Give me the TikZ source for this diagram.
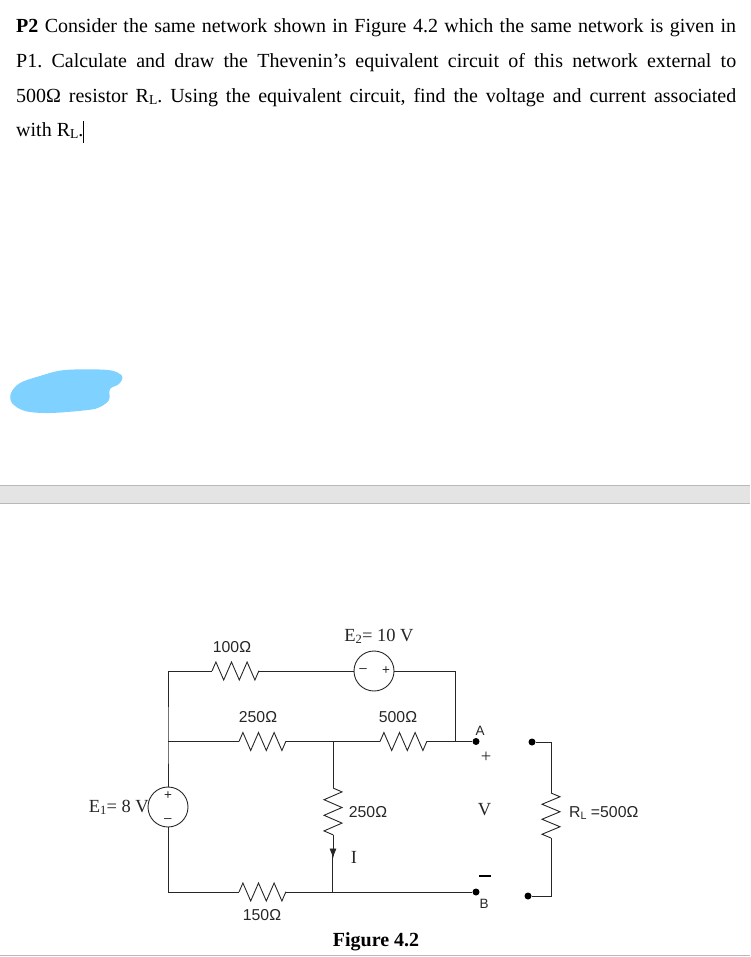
\documentclass[tikz,border=0pt]{standalone}
\usepackage{fontspec}
\setmainfont{Liberation Serif}
\setsansfont{Liberation Sans}
\usetikzlibrary{decorations.pathmorphing,arrows.meta}
\frenchspacing
\newcommand{\sbs}[1]{\raisebox{-0.12em}{\scalebox{0.68}{#1}}}
\tikzset{
  x=1pt,y=-1pt,
  wire/.style={draw=black!85,line width=0.9pt,line join=miter},
  res/.style={wire,decorate,decoration={zigzag,segment length=#1,amplitude=9pt}},
  res/.default=15.6pt,
  src/.style={circle,draw=black!85,line width=0.9pt,minimum size=40pt,inner sep=0pt},
  term/.style={circle,fill=black,minimum size=7pt,inner sep=0pt},
  para/.style={anchor=base west,inner sep=0pt,font=\rmfamily\fontsize{20}{22}\selectfont},
  val/.style={inner sep=0pt,font=\sffamily\fontsize{15.8}{18}\selectfont,text=black!85},
  ser/.style={inner sep=0pt,font=\rmfamily\fontsize{18.5}{20}\selectfont,text=black!85},
  sgn/.style={inner sep=0pt,font=\sffamily\fontsize{13.5}{15}\selectfont,text=black!85}
}
\begin{document}
\begin{tikzpicture}
\useasboundingbox (0,0) rectangle (750,957);
% question text
\node[para] (l1) at (16,32.5) {\makebox[720pt][s]{\textbf{P2} Consider the same network shown in Figure 4.2 which the same network is given in}};
\node[para] (l2) at (16,67.5) {\makebox[720pt][s]{P1. Calculate and draw the Thevenin’s equivalent circuit of this network external to}};
\node[para] (l3) at (16,102.5) {\makebox[720pt][s]{500Ω resistor R\sbs{L}. Using the equivalent circuit, find the voltage and current associated}};
\node[para] (l4) at (16,136.5) {with R\sbs{L}.};
\draw[black,line width=0.8pt] (83,121) -- (83,143);
% blue blot
\fill[color={rgb,255:red,127;green,209;blue,255}] plot[smooth cycle,tension=0.55] coordinates {(11,393) (20,383) (40,376) (65,370) (108,370) (122,376) (119,384) (110,389) (109,400) (100,407) (88,410) (50,413) (25,411) (12,403)};
% grey bar and bottom rule
\fill[color={rgb,255:red,228;green,228;blue,228}] (0,485) rectangle (750,503);
\draw[color={rgb,255:red,185;green,185;blue,185},line width=0.8pt] (0,485) -- (750,485) (0,503) -- (750,503) (0,955) -- (750,955);
% coordinates
\coordinate (tl) at (168,671);
\coordinate (ml) at (168,741.5);
\coordinate (bl) at (168,892);
\coordinate (r1a) at (212,671);
\coordinate (r1b) at (259,671);
\coordinate (r2a) at (239,741.5);
\coordinate (r2b) at (286,741.5);
\coordinate (mj) at (333,741.5);
\coordinate (r3a) at (380,741.5);
\coordinate (r3b) at (428,741.5);
\coordinate (rj) at (455,741.5);
\coordinate (tr) at (455,671);
\coordinate (r4a) at (333,788);
\coordinate (r4b) at (333,835);
\coordinate (bj) at (332.5,892);
\coordinate (r5a) at (239,892);
\coordinate (r5b) at (286,892);
\coordinate (lt) at (551,742);
\coordinate (rla) at (551,793);
\coordinate (rlb) at (551,838);
\coordinate (lb) at (551,896);
% sources and terminals
\node[src] (e1) at (168,807) {};
\node[src] (e2) at (374,671) {};
\node[term] (A) at (476,741.5) {};
\node[term] (B) at (476,892) {};
\node[term] (C) at (532,742) {};
\node[term] (D) at (528,896) {};
% wires
\draw[wire] (e1) -- (ml) -- (tl) -- (r1a);
\draw[wire] (r1b) -- (e2);
\draw[wire] (e2) -- (tr) -- (rj);
\draw[wire] (ml) -- (r2a);
\draw[wire] (r2b) -- (mj) -- (r3a);
\draw[wire] (r3b) -- (A);
\draw[wire] (mj) -- (r4a);
\draw[wire] (e1) -- (bl) -- (r5a);
\draw[wire] (r5b) -- (bj) -- (B);
\draw[wire,-{Latex[length=10pt,width=7pt]}] (r4b) -- (333,858.5);
\draw[wire] (332.5,855) -- (bj);
\draw[wire] (C) -- (lt) -- (rla);
\draw[wire] (rlb) -- (lb) -- (D);
% resistors
\draw[res] (r1a) -- (r1b);
\draw[res] (r2a) -- (r2b);
\draw[res] (r3a) -- (r3b);
\draw[res] (r5a) -- (r5b);
\draw[res] (r4a) -- (r4b);
\draw[res=15pt] (rla) -- (rlb);
% resistor labels
\node[val] (t100) at (232,647) {100Ω};
\node[val] (t250a) at (258,717) {250Ω};
\node[val] (t500) at (398,717) {500Ω};
\node[val] (t250b) at (368,812) {250Ω};
\node[val] (t150) at (262,915) {150Ω};
\node[val,anchor=west] (trl) at (569,813) {R\sbs{L} =500Ω};
% source labels
\node[ser,anchor=east] (te1) at (149,807) {E\sbs{1}= 8 V};
\node[ser] (te2) at (379,636) {E\sbs{2}= 10 V};
\node[sgn] (p1) at (168,796) {+};
\node[sgn] (m1) at (168,821) {–};
\node[sgn] (m2) at (363,671) {–};
\node[sgn] (p2) at (386,671) {+};
% output labels
\node[sgn] (tA) at (480,731) {A};
\node[sgn] (tB) at (484,904) {B};
\node[ser] (tp) at (486,757) {+};
\node[ser] (tV) at (484.5,810) {V};
\draw[black,line width=1.6pt] (479,876) -- (491,876);
\node[ser] (tI) at (354,857) {I};
\node[inner sep=0pt,font=\rmfamily\bfseries\fontsize{20}{22}\selectfont] (fig) at (376,942) {Figure 4.2};
\end{tikzpicture}
\end{document}
